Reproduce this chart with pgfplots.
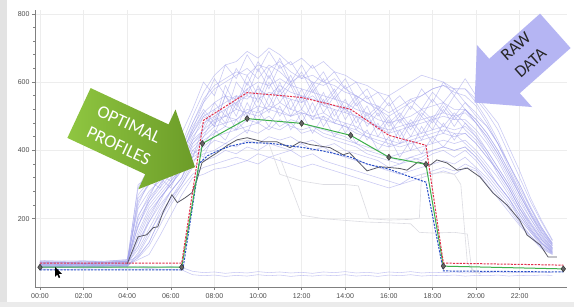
\documentclass[border=0pt]{standalone}
\usepackage{fontspec}
\setmainfont{Liberation Sans}
\newfontfamily\arrowfont{Carlito}
\usepackage{pgfplots}
\pgfplotsset{compat=1.18}
\usepackage{pgfplotstable}

\definecolor{rawc}{HTML}{A4A4EC}
\definecolor{fgray}{HTML}{DCDCE2}
\definecolor{optred}{HTML}{E2304C}
\definecolor{optgreen}{HTML}{3DB04A}
\definecolor{optblue}{HTML}{2A4FC8}
\definecolor{dgray}{HTML}{5A5A66}
\definecolor{garrowA}{HTML}{8FC641}
\definecolor{garrowB}{HTML}{6C9C28}
\definecolor{rarrow}{HTML}{B5B5F3}

\pgfplotstableread{
h c1 c2 c3 c4 c5 c6 c7 c8 c9 c10 c11 c12 c13 c14 c15 c16 c17 c18
0 62 70 58 75 66 60 72 68 55 64 78 61 70 59 66 73 58 52
1 60 72 57 74 64 62 70 66 57 63 76 60 68 61 65 71 57 51
2 63 69 60 73 65 59 73 67 56 66 77 62 69 60 67 70 59 53
3 61 71 58 76 67 61 71 69 58 64 75 63 71 62 66 72 58 52
4 66 74 62 80 70 64 75 72 60 68 80 65 74 64 70 76 60 53
4.5 150 90 210 120 260 80 180 300 100 140 230 85 195 270 110 160 61 52
5 220 130 260 190 300 95 240 320 160 210 280 120 250 310 170 230 59 54
5.5 260 200 300 240 330 150 280 360 210 260 310 180 290 340 230 270 58 52
6 300 250 340 280 370 210 320 390 260 300 350 240 330 380 280 310 60 51
6.5 340 300 380 320 400 270 360 420 310 350 390 290 370 410 320 350 57 50
7 400 350 450 380 480 320 430 500 370 410 460 330 440 480 390 420 46 36
7.5 430 370 500 400 540 330 460 570 390 440 510 350 480 550 410 450 42 33
8 450 380 520 430 580 345 490 620 400 470 540 360 500 590 440 480 44 35
8.5 470 400 540 420 600 350 500 650 420 480 560 370 520 610 450 500 40 31
9 460 390 560 440 620 360 520 660 410 490 550 380 540 630 460 490 43 34
9.5 490 410 550 460 640 370 510 690 430 510 580 370 560 620 470 520 41 32
10 480 400 580 450 610 360 530 670 420 500 600 390 550 650 480 510 45 36
10.5 500 420 560 470 650 380 520 700 440 520 590 380 570 640 460 530 42 33
11 470 410 590 460 630 370 540 680 430 510 610 390 560 660 490 520 44 35
11.5 490 400 570 480 600 360 520 650 440 500 590 400 550 630 470 500 41 31
12 480 420 560 450 620 350 510 670 420 520 580 380 540 610 460 510 43 34
12.5 470 400 550 460 600 360 500 640 430 490 570 390 560 620 470 500 40 32
13 460 410 540 440 590 350 510 660 410 500 560 370 530 600 450 490 44 35
13.5 450 390 530 430 610 340 490 630 420 480 550 360 520 590 440 480 42 33
14 440 380 520 420 580 330 480 620 400 470 540 350 510 570 430 470 45 36
14.5 420 370 500 410 560 320 470 600 390 460 520 340 500 560 420 450 41 32
15 410 360 490 390 540 310 450 590 380 440 510 330 480 540 400 440 43 34
15.5 400 350 470 380 520 300 440 570 370 430 490 320 470 530 390 420 40 31
16 380 340 460 370 500 290 430 560 350 420 480 310 450 510 380 410 44 35
16.5 390 330 470 360 520 300 420 580 360 410 490 300 460 530 370 420 42 33
17 400 340 480 380 540 310 440 600 370 420 500 320 470 550 380 430 45 36
17.5 410 350 490 370 560 320 450 620 380 430 520 330 480 560 390 440 41 32
18 420 360 500 390 580 330 460 610 400 440 530 340 490 580 400 450 43 34
18.5 430 370 510 400 590 340 470 600 410 450 540 350 500 590 410 460 42 33
19 420 360 500 380 580 330 460 580 400 440 520 340 490 570 400 450 44 35
19.5 430 380 510 400 580 350 470 580 410 450 520 360 490 560 410 450 41 32
20 400 350 480 370 550 340 440 540 380 420 490 345 460 530 380 420 43 34
20.5 360 320 440 330 510 300 400 490 340 380 450 310 420 480 340 380 42 33
21 320 280 390 290 460 260 350 430 300 340 400 270 370 420 300 340 44 35
21.5 270 240 330 250 390 220 300 360 260 290 340 230 310 350 260 290 41 32
22 220 190 270 200 320 180 240 290 210 230 270 185 250 280 210 230 43 34
22.5 170 150 210 160 250 145 190 230 165 180 215 150 200 220 165 185 42 33
23 130 118 160 125 190 112 145 175 128 140 165 115 150 170 128 140 44 35
23.5 105 98 120 100 135 95 112 128 102 108 122 96 115 125 100 110 42 34
}\rawdata

\pgfplotstableread{
h d1 d2 d3 d4 d5 d6 d7 d8 d9 d10
0 68 63 71 59 74 66 62 69 57 72
1 66 61 73 60 72 65 63 70 58 71
2 69 64 70 58 75 67 61 68 59 73
3 67 62 72 61 73 66 64 70 57 72
4 72 66 76 63 78 70 66 73 60 75
4.5 240 120 175 95 290 205 135 250 88 180
5 310 200 260 150 350 270 190 300 130 250
5.5 290 260 330 220 380 320 250 360 200 300
6 360 300 310 280 410 290 310 330 260 370
6.5 380 340 400 320 450 360 350 390 300 400
7 470 420 380 400 520 430 380 460 360 450
7.5 520 460 470 380 600 500 440 540 420 510
8 480 520 540 450 560 470 500 610 460 470
8.5 590 480 500 520 650 560 470 560 430 560
9 530 560 600 460 610 500 540 640 490 520
9.5 620 500 560 540 680 580 490 590 450 600
10 560 590 640 480 630 520 560 660 520 540
10.5 640 530 580 560 690 600 510 610 470 620
11 570 600 650 500 640 540 580 670 530 560
11.5 620 520 590 550 660 590 500 600 460 600
12 550 580 630 480 610 520 560 650 510 540
12.5 600 510 570 540 650 580 490 590 450 590
13 540 570 610 470 600 510 550 630 500 530
13.5 580 500 550 520 630 560 480 570 440 570
14 520 550 590 450 580 490 530 610 480 510
14.5 560 480 530 500 600 540 460 550 420 550
15 500 530 560 430 550 470 510 580 460 490
15.5 530 460 500 480 570 510 440 520 400 520
16 480 500 540 410 530 450 490 560 440 470
16.5 510 440 480 460 560 490 420 500 380 500
17 470 490 530 400 520 440 480 550 430 460
17.5 520 450 500 470 580 500 430 520 390 510
18 490 500 550 420 540 460 490 570 440 480
18.5 540 470 510 480 600 520 450 540 410 530
19 500 510 560 430 560 470 500 580 450 490
19.5 540 480 520 480 610 520 460 540 420 520
20 500 450 490 440 560 480 430 510 390 480
20.5 470 400 450 390 520 430 390 470 350 440
21 420 350 400 330 480 380 340 420 300 390
21.5 360 300 340 280 410 320 290 360 260 330
22 300 240 280 220 340 260 230 300 200 270
22.5 230 185 215 170 260 200 175 235 160 210
23 170 140 160 130 195 150 135 175 120 155
23.5 125 108 120 102 138 112 104 128 98 115
}\rawdataB

\pgfplotstableread{
h v
9 430
10.5 420
11 330
12 310
13 300
14 300
14.6 296
15.1 200
16 196
17 198
17.4 202
17.5 330
18.5 335
19 330
19.3 300
19.6 70
20 40
}\fgA

\pgfplotstableread{
h v
11 380
12 210
13 200
14 195
15 190
16 188
17 185
17.4 160
18 158
19 160
19.6 155
19.8 50
20.2 38
}\fgB

\pgfplotstableread{
h v
4.0 68
4.5 147
4.9 153
5.2 174
5.4 176
5.65 220
6.05 270
6.3 247
6.65 261
6.97 276
7.2 314
7.43 364
7.8 380
8.12 393
8.6 415
9.04 431
9.5 437
10.23 425
10.87 425
11.47 408
11.93 425
12.39 417
13.3 408
13.9 387
14.2 393
15.0 340
15.6 352
16.0 350
16.5 347
16.83 342
17.34 366
17.9 357
18.2 372
18.67 363
19.13 342
19.6 348
20.18 322
20.78 275
21.42 240
22.0 196
22.34 152
22.94 123
23.3 88
23.7 88
}\measured

\pgfplotstableread{
h v
0 70
6.5 70
7.5 488
9.5 569
12 555
14.25 520
16 444
17.7 415
18.5 70
24 64
}\optR

\pgfplotstableread{
h v
0 58
6.5 58
7.45 420
9.5 493
12 479
14.25 444
16 380
17.7 359
18.5 61
24 53
}\optG

\pgfplotstableread{
h v
0 50
6.55 50
7.3 362
7.7 385
8.2 400
8.7 412
9.5 423
10.5 421
12 409
13 398
14.25 380
15 360
16 345
17 322
17.7 307
18.5 47
24 44
}\optB

\begin{document}
\begin{tikzpicture}[x=1pt,y=1pt]
\useasboundingbox (0,0) rectangle (574,307);
\fill[white] (0,0) rectangle (574,307);
\fill[black!11] (0,0) rectangle (7,307);
\fill[black!8] (0,0) rectangle (574,5);
\begin{axis}[
  at={(35pt,20pt)}, anchor=south west,
  scale only axis, width=532pt, height=277pt,
  xmin=-0.229, xmax=24.17, ymin=0, ymax=811,
  axis x line*=bottom, axis y line*=left,
  axis line style={black!50, line width=0.6pt},
  xtick={0,2,...,22},
  xticklabels={00:00,02:00,04:00,06:00,08:00,10:00,12:00,14:00,16:00,18:00,20:00,22:00},
  ytick={200,400,600,800},
  minor y tick num=4,
  tick align=outside, major tick length=3pt, minor tick length=1.5pt,
  tick style={black!50, line width=0.5pt},
  grid=major, major grid style={draw=black!7, line width=0.5pt},
  ticklabel style={font=\fontsize{7}{8}\selectfont, text=black!70},
  /pgf/number format/assume math mode=true,
  yticklabel style={xshift=1pt},
  xticklabel style={yshift=-0.5pt},
]
\pgfplotsinvokeforeach{c1,c2,c3,c4,c5,c6,c7,c8,c9,c10,c11,c12,c13,c14,c15,c16,c17,c18}{
  \addplot[rawc, opacity=0.6, line width=0.55pt, no marks] table[x=h, y=#1] {\rawdata};
}
\pgfplotsinvokeforeach{d1,d2,d3,d4,d5,d6,d7,d8,d9,d10}{
  \addplot[rawc, opacity=0.6, line width=0.55pt, no marks] table[x=h, y=#1] {\rawdataB};
}
\addplot[fgray, line width=0.6pt, no marks] table[x=h, y=v] {\fgA};
\addplot[fgray, line width=0.6pt, no marks] table[x=h, y=v] {\fgB};
\addplot[dgray, line width=0.8pt, no marks] table[x=h, y=v] {\measured};
\addplot[optblue, line width=1pt, dash pattern=on 2.2pt off 1.2pt, no marks] table[x=h, y=v] {\optB};
\addplot[optgreen, line width=1pt, mark=diamond*, mark size=3pt,
  mark options={solid, fill=black!60, draw=black!80, line width=0.5pt}] table[x=h, y=v] {\optG};
\addplot[optred, line width=1pt, dash pattern=on 2.2pt off 1.2pt, no marks] table[x=h, y=v] {\optR};
\end{axis}

% mouse cursor
\fill[black] (55,40) -- (55,30) -- (57.3,32.4) -- (58.8,29) -- (60.2,29.6) -- (58.8,33) -- (62,33.2) -- cycle;

% OPTIMAL PROFILES arrow
\begin{scope}[shift={(79,194)}, rotate=-25]
\shade[left color=garrowA, right color=garrowB]
  (0,27.5) -- (86,27.5) -- (86,44) -- (128,0) -- (86,-44) -- (86,-27.5) -- (0,-27.5) -- cycle;
\node[transform shape, text=white, align=center, inner sep=0pt,
  font=\arrowfont\fontsize{18}{24}\selectfont] at (50,-1) {OPTIMAL\\PROFILES};
\end{scope}

% RAW DATA arrow
\begin{scope}[shift={(504.5,231)}, rotate=221.6]
\fill[rarrow]
  (-68,23) -- (0,23) -- (0,41.5) -- (40,0) -- (0,-41.5) -- (0,-23) -- (-68,-23) -- cycle;
\node[transform shape, rotate=180, text=black!85, align=center, inner sep=0pt,
  font=\arrowfont\fontsize{17}{22}\selectfont] at (-28,-3.4) {RAW\\DATA};
\end{scope}
\end{tikzpicture}
\end{document}
